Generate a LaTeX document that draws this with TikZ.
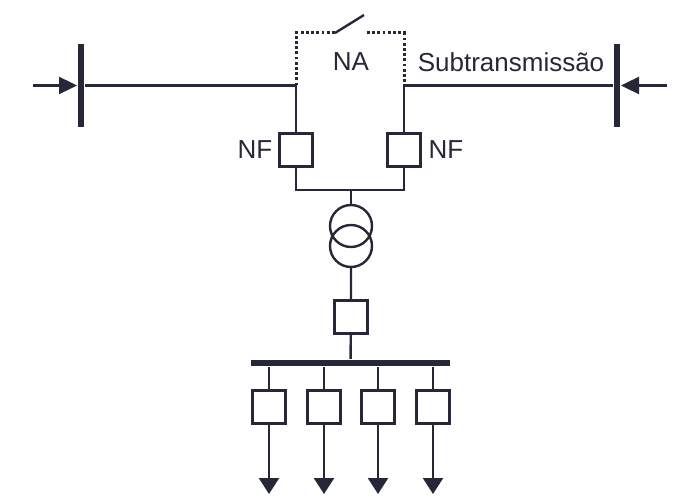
\documentclass[tikz,border=0pt]{standalone}
\usepackage{fontspec}
\setmainfont{Liberation Sans}
\usetikzlibrary{arrows.meta}
\definecolor{ink}{RGB}{38,40,56}

\begin{document}
\begin{tikzpicture}[x=0.5pt, y=-0.5pt, line width=1.2pt, draw=ink, color=ink,
    font=\fontsize{13}{15}\selectfont,
    cb/.style = {draw, rectangle, minimum size=16.5pt, inner sep=0pt},
    tr/.style = {draw, circle, minimum size=21pt, inner sep=0pt},
    vbar/.style = {fill=ink, minimum width=2.8pt, minimum height=41.5pt, inner sep=0pt},
    hbar/.style = {fill=ink, minimum width=99.5pt, minimum height=3pt, inner sep=0pt},
    dotline/.style = {line width=1.5pt, dash pattern=on 1.4pt off 1.2pt},
    inarr/.style = {-{Triangle[length=9pt, width=8.5pt]}},
    feed/.style = {-{Triangle[length=8pt, width=10pt]}}]
                \useasboundingbox (0,0) rectangle (680,502);
                % subtransmission bars
                \node[vbar] (lb) at (81,85.5) {};
                \node[vbar] (rb) at (617,85.5) {};
                \coordinate (lin) at (33,85.5);
                \coordinate (rin) at (667,85.5);
                \draw[inarr] (lin) -- (lb);
                \draw[inarr] (rin) -- (rb);
                \node (sub) at (511,62) {Subtransmissão};
                % breakers NF
                \node[cb] (nf1) at (296,150) {};
                \node[cb] (nf2) at (404,150) {};
                \node (lnf1) at (255,150) {NF};
                \node (lnf2) at (446,150) {NF};
                \coordinate (jl) at (296,85.5);
                \coordinate (jr) at (404,85.5);
                \draw (lb) -- (jl) -- (nf1);
                \draw (rb) -- (jr) -- (nf2);
                % tie switch NA
                \coordinate (sw1) at (335,33);
                \coordinate (sw2) at (364,15);
                \coordinate (sw3) at (367,33);
                \draw[dotline] (jl) |- (sw1);
                \draw[dotline] (sw3) -| (jr);
                \draw (sw1) -- (sw2);
                \node (na) at (351,62) {NA};
                % transformer
                \coordinate (jc) at (351,190);
                \node[tr] (t1) at (351,226) {};
                \node[tr] (t2) at (351,246) {};
                \draw (nf1) |- (jc) -| (nf2);
                \draw (jc) -- (t1);
                \node[cb] (mb) at (351,317) {};
                \node[hbar] (bus) at (350.5,363) {};
                \draw (t2) -- (mb) -- (bus);
                % feeders
                \foreach \x [count=\i] in {269,324,378,433} {
                    \node[cb] (f\i) at (\x,407) {};
                    \coordinate (o\i) at (\x,494);
                    \draw (f\i |- bus.south) -- (f\i);
                    \draw[feed] (f\i) -- (o\i);
                }
            \end{tikzpicture}
\end{document}
